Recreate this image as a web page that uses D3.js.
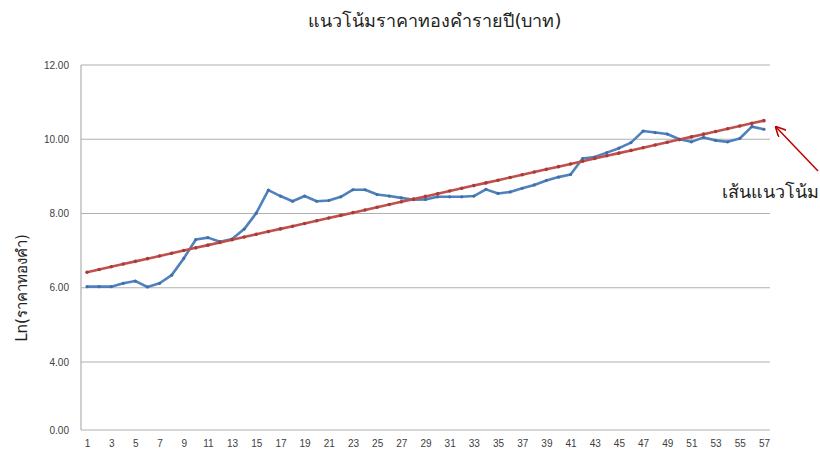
<!DOCTYPE html>
<html>
<head>
<meta charset="utf-8">
<script src="https://cdn.jsdelivr.net/npm/d3@7"></script>
<style>
  body { margin: 0; background: #fff; }
  svg { display: block; }
</style>
</head>
<body>
<div id="container"></div>
<script>
// x categories: year index 1..57
const years = d3.range(1, 58);
// Ln(gold price)
const lnPrice = [
    6.03, 6.03, 6.03, 6.12, 6.18, 6.02, 6.12, 6.34, 6.79, 7.30,
    7.35, 7.24, 7.31, 7.58, 8.01, 8.63, 8.47, 8.33, 8.47, 8.33,
    8.35, 8.45, 8.64, 8.64, 8.51, 8.47, 8.42, 8.37, 8.38, 8.45,
    8.45, 8.45, 8.47, 8.65, 8.54, 8.58, 8.68, 8.77, 8.89, 8.98,
    9.05, 9.48, 9.52, 9.64, 9.76, 9.91, 10.22, 10.18, 10.14, 10.00,
    9.93, 10.05, 9.97, 9.93, 10.02, 10.34, 10.27
];
const yTicks = [0, 4, 6, 8, 10, 12];
const xTicks = years.filter(d => d % 2 === 1);

const config = {
    width: 820,
    height: 452,
    left: 81,
    right: 770,
    top: 65,
    bottom: 430,
}

// least squares trend line, like the spreadsheet trendline
const meanX = d3.mean(years);
const meanY = d3.mean(lnPrice);
const slope = d3.sum(years, (d, i) => (d - meanX) * (lnPrice[i] - meanY)) /
    d3.sum(years, d => (d - meanX) ** 2);
const intercept = meanY - slope * meanX;
const trend = years.map(d => intercept + slope * d);

const svg = d3.select('#container')
    .append('svg')
    .attr('width', config.width)
    .attr('height', config.height)
    .style('font-family', '"DejaVu Sans", sans-serif');

const x = d3.scalePoint()
    .domain(years)
    .range([config.left, config.right])
    .padding(0.5)

// the value axis skips the 2.00 band
const y = d3.scaleLinear()
    .domain([0, 4, 12])
    .range([config.bottom, 362, config.top])

// gridlines
svg.append('g')
    .selectAll('line')
    .data(yTicks)
    .join('line')
    .attr('x1', config.left)
    .attr('x2', config.right)
    .attr('y1', d => y(d))
    .attr('y2', d => y(d))
    .attr('stroke', '#b0b0b0')
    .attr('stroke-width', 1.2)

svg.append('line')
    .attr('x1', config.left)
    .attr('x2', config.left)
    .attr('y1', config.top)
    .attr('y2', config.bottom)
    .attr('stroke', '#b0b0b0')
    .attr('stroke-width', 1.2)

const yAxis = svg.append('g')
    .attr('transform', `translate(${config.left},0)`)
    .call(d3.axisLeft(y).tickValues(yTicks).tickFormat(d3.format('.2f')).tickSize(0).tickPadding(12))
yAxis.select('.domain').remove()
yAxis.selectAll('text')
    .style('font-size', '10px')
    .style('fill', '#404040')

const xAxis = svg.append('g')
    .attr('transform', `translate(0,${config.bottom})`)
    .call(d3.axisBottom(x).tickValues(xTicks).tickSize(0).tickPadding(10))
xAxis.select('.domain').remove()
xAxis.selectAll('text')
    .style('font-size', '10px')
    .style('fill', '#404040')

// series
const line = d3.line()
    .x((d, i) => x(years[i]))
    .y(d => y(d))

svg.append('path')
    .datum(lnPrice)
    .attr('fill', 'none')
    .attr('stroke', '#4f81bd')
    .attr('stroke-width', 2.6)
    .attr('stroke-linejoin', 'round')
    .attr('d', line)

svg.append('g')
    .selectAll('circle')
    .data(lnPrice)
    .join('circle')
    .attr('cx', (d, i) => x(years[i]))
    .attr('cy', d => y(d))
    .attr('r', 1.6)
    .attr('fill', '#3f6fa8')

svg.append('path')
    .datum(trend)
    .attr('fill', 'none')
    .attr('stroke', '#c0504d')
    .attr('stroke-width', 2.6)
    .attr('d', line)

svg.append('g')
    .selectAll('circle')
    .data(trend)
    .join('circle')
    .attr('cx', (d, i) => x(years[i]))
    .attr('cy', d => y(d))
    .attr('r', 1.8)
    .attr('fill', '#a83a37')

// title and axis title
svg.append('text')
    .attr('x', 435)
    .attr('y', 27)
    .attr('text-anchor', 'middle')
    .text('แนวโน้มราคาทองคำรายปี(บาท)')
    .style('font-size', '18px')
    .style('fill', '#222')

svg.append('text')
    .attr('transform', 'translate(27,288) rotate(-90)')
    .attr('text-anchor', 'middle')
    .text('Ln(ราคาทองคำ)')
    .style('font-size', '15px')
    .style('fill', '#222')

// annotation for the trend line
svg.append('defs').append('marker')
    .attr('id', 'head')
    .attr('viewBox', '0 0 10 10')
    .attr('refX', 9)
    .attr('refY', 5)
    .attr('markerWidth', 7)
    .attr('markerHeight', 7)
    .attr('orient', 'auto')
    .append('path')
    .attr('d', 'M0,0 L10,5 L0,10')
    .attr('fill', 'none')
    .attr('stroke', '#c00000')
    .attr('stroke-width', 1.5)

svg.append('line')
    .attr('x1', 818)
    .attr('y1', 171)
    .attr('x2', 776)
    .attr('y2', 127)
    .attr('stroke', '#c00000')
    .attr('stroke-width', 1.5)
    .attr('marker-end', 'url(#head)')

svg.append('text')
    .attr('x', 770)
    .attr('y', 198)
    .attr('text-anchor', 'middle')
    .text('เส้นแนวโน้ม')
    .style('font-size', '18px')
    .style('fill', '#222')
</script>
</body>
</html>
